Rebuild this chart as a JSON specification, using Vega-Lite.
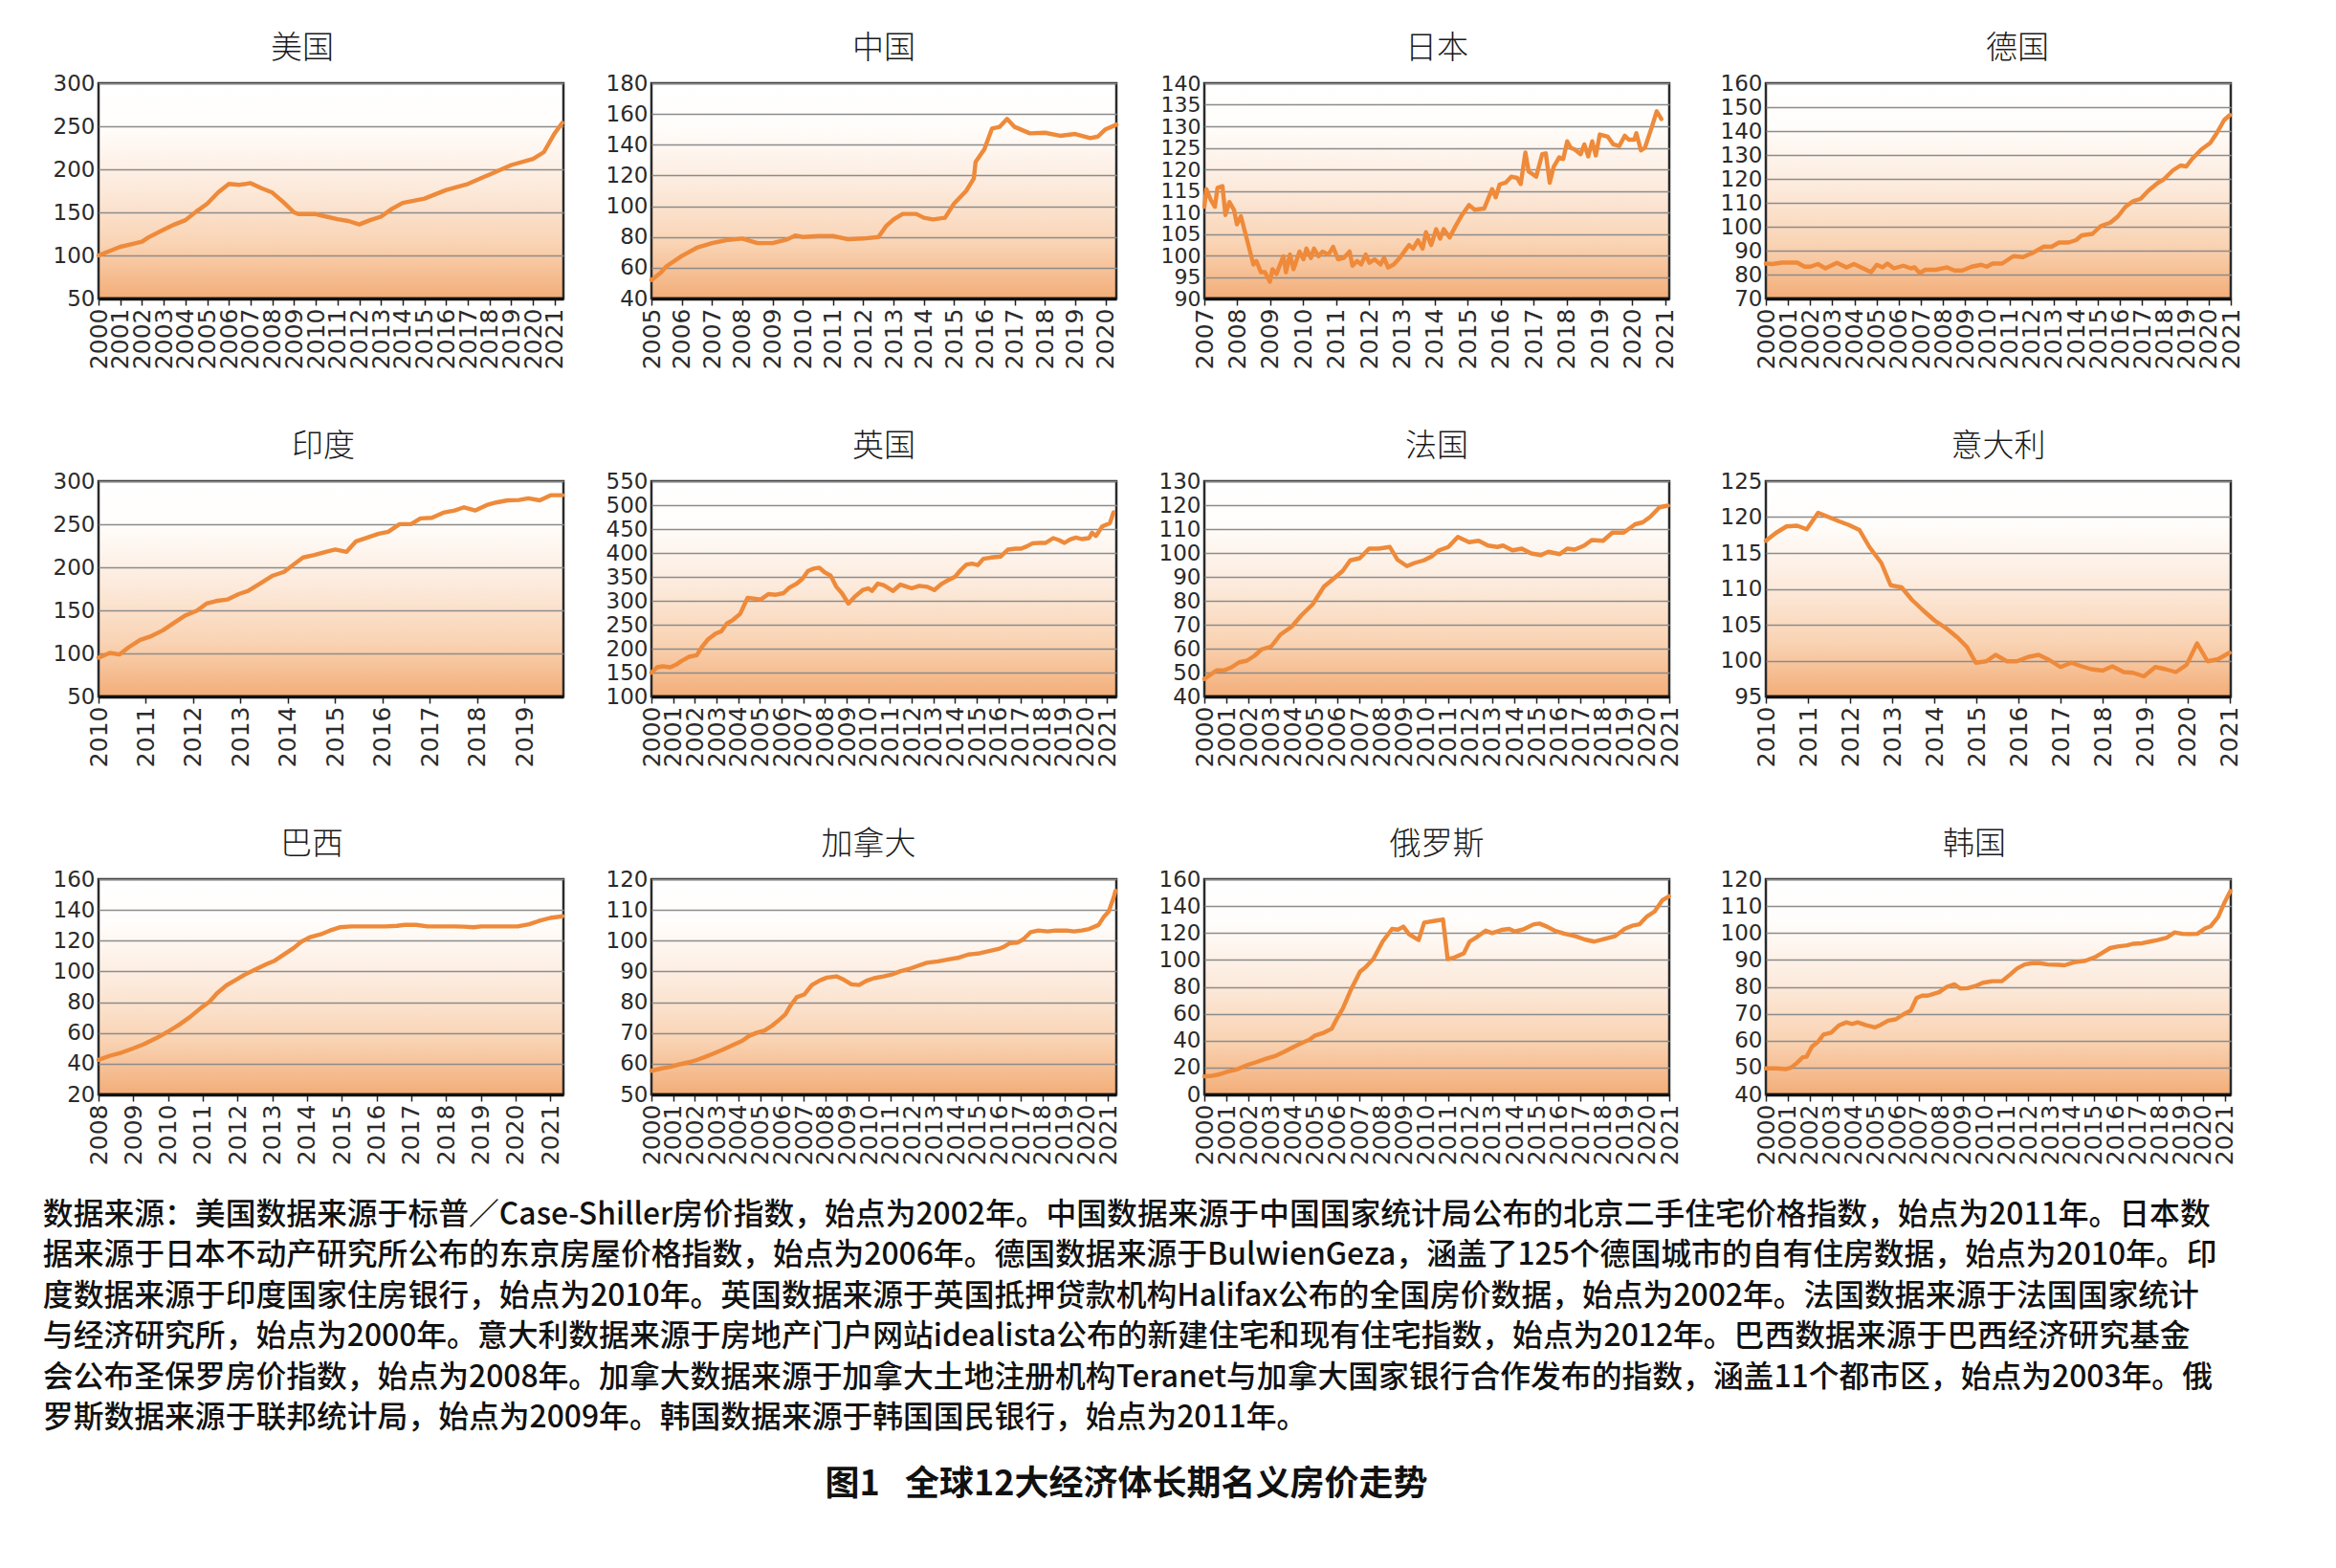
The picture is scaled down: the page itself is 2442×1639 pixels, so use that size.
{
"$schema": "https://vega.github.io/schema/vega-lite/v6.json",
"background": "white",
"padding": {"left": 44, "top": 33, "right": 10, "bottom": 10},
"datasets": {
"us": [{"t":2000,"v":100},{"t":2000.5,"v":105},{"t":2001,"v":110},{"t":2001.5,"v":113},{"t":2002,"v":116},{"t":2002.3,"v":121},{"t":2003,"v":130},{"t":2003.5,"v":136},{"t":2004,"v":141},{"t":2004.5,"v":151},{"t":2005,"v":160},{"t":2005.5,"v":173},{"t":2006,"v":183},{"t":2006.5,"v":182},{"t":2007,"v":184},{"t":2007.5,"v":178},{"t":2008,"v":173},{"t":2008.5,"v":162},{"t":2009,"v":150},{"t":2009.2,"v":148},{"t":2010,"v":148},{"t":2010.5,"v":145},{"t":2011,"v":142},{"t":2011.5,"v":140},{"t":2012,"v":136},{"t":2012.5,"v":141},{"t":2013,"v":145},{"t":2013.5,"v":154},{"t":2014,"v":161},{"t":2015,"v":166},{"t":2016,"v":176},{"t":2017,"v":183},{"t":2018,"v":194},{"t":2019,"v":205},{"t":2020,"v":212},{"t":2020.5,"v":220},{"t":2021,"v":242},{"t":2021.35,"v":254}],
"cn": [{"t":2005,"v":52},{"t":2005.3,"v":56.6},{"t":2005.5,"v":61},{"t":2006,"v":67.6},{"t":2006.5,"v":73},{"t":2007,"v":76},{"t":2007.5,"v":78},{"t":2008,"v":79},{"t":2008.5,"v":76},{"t":2009,"v":76},{"t":2009.5,"v":78.5},{"t":2009.75,"v":81},{"t":2010,"v":80},{"t":2010.5,"v":80.6},{"t":2011,"v":80.6},{"t":2011.5,"v":78.5},{"t":2012,"v":79},{"t":2012.5,"v":80},{"t":2012.75,"v":87},{"t":2013,"v":91.4},{"t":2013.3,"v":95},{"t":2013.75,"v":95},{"t":2014,"v":92.5},{"t":2014.3,"v":91.4},{"t":2014.7,"v":92.5},{"t":2015,"v":101.8},{"t":2015.4,"v":110},{"t":2015.65,"v":118},{"t":2015.71,"v":128.8},{"t":2016,"v":137},{"t":2016.25,"v":150.5},{"t":2016.5,"v":151.6},{"t":2016.75,"v":156.8},{"t":2017,"v":151.6},{"t":2017.5,"v":147.4},{"t":2018,"v":147.8},{"t":2018.5,"v":145.8},{"t":2019,"v":147},{"t":2019.5,"v":144.3},{"t":2019.75,"v":145.3},{"t":2020,"v":150},{"t":2020.36,"v":153}],
"jp": [{"t":2007.00,"v":111.3},{"t":2007.06,"v":115.4},{"t":2007.20,"v":112.8},{"t":2007.32,"v":111.3},{"t":2007.40,"v":115.7},{"t":2007.55,"v":116.1},{"t":2007.64,"v":109.4},{"t":2007.76,"v":112.4},{"t":2007.90,"v":110.6},{"t":2007.99,"v":107.2},{"t":2008.11,"v":109.1},{"t":2008.25,"v":105.0},{"t":2008.49,"v":97.9},{"t":2008.58,"v":98.7},{"t":2008.72,"v":96.1},{"t":2008.84,"v":96.1},{"t":2008.99,"v":93.9},{"t":2009.07,"v":96.8},{"t":2009.19,"v":95.7},{"t":2009.40,"v":99.8},{"t":2009.48,"v":96.1},{"t":2009.60,"v":100.2},{"t":2009.71,"v":96.8},{"t":2009.89,"v":100.9},{"t":2010.01,"v":99.1},{"t":2010.10,"v":101.6},{"t":2010.24,"v":99.4},{"t":2010.33,"v":101.6},{"t":2010.47,"v":99.8},{"t":2010.59,"v":100.9},{"t":2010.77,"v":100.2},{"t":2010.91,"v":102.0},{"t":2011.06,"v":99.1},{"t":2011.23,"v":99.4},{"t":2011.41,"v":100.9},{"t":2011.50,"v":97.6},{"t":2011.64,"v":98.7},{"t":2011.76,"v":97.9},{"t":2011.90,"v":100.2},{"t":2012.01,"v":98.3},{"t":2012.17,"v":99.1},{"t":2012.35,"v":97.9},{"t":2012.46,"v":99.4},{"t":2012.58,"v":97.2},{"t":2012.75,"v":97.9},{"t":2012.93,"v":99.4},{"t":2013.11,"v":101.3},{"t":2013.22,"v":102.4},{"t":2013.34,"v":101.6},{"t":2013.49,"v":103.5},{"t":2013.63,"v":101.6},{"t":2013.73,"v":105.4},{"t":2013.89,"v":102.4},{"t":2014.04,"v":106.1},{"t":2014.16,"v":103.9},{"t":2014.27,"v":106.1},{"t":2014.45,"v":104.2},{"t":2014.63,"v":106.8},{"t":2014.80,"v":109.1},{"t":2015.04,"v":111.7},{"t":2015.21,"v":110.6},{"t":2015.50,"v":110.9},{"t":2015.74,"v":115.4},{"t":2015.85,"v":113.5},{"t":2015.97,"v":116.5},{"t":2016.15,"v":116.9},{"t":2016.32,"v":118.3},{"t":2016.50,"v":118.0},{"t":2016.61,"v":116.6},{"t":2016.75,"v":123.9},{"t":2016.85,"v":119.5},{"t":2017.08,"v":118.3},{"t":2017.26,"v":123.5},{"t":2017.37,"v":123.7},{"t":2017.49,"v":116.9},{"t":2017.61,"v":120.6},{"t":2017.78,"v":122.8},{"t":2017.90,"v":122.4},{"t":2018.02,"v":126.5},{"t":2018.13,"v":125.0},{"t":2018.25,"v":124.6},{"t":2018.43,"v":123.5},{"t":2018.54,"v":125.8},{"t":2018.66,"v":123.0},{"t":2018.78,"v":126.5},{"t":2018.89,"v":123.2},{"t":2019.01,"v":128.1},{"t":2019.25,"v":127.6},{"t":2019.42,"v":125.8},{"t":2019.60,"v":125.4},{"t":2019.77,"v":127.8},{"t":2019.89,"v":126.9},{"t":2020.06,"v":126.9},{"t":2020.12,"v":128.4},{"t":2020.26,"v":124.4},{"t":2020.38,"v":125.0},{"t":2020.59,"v":129.8},{"t":2020.74,"v":133.5},{"t":2020.88,"v":131.7}],
"de": [{"t":2000.00,"v":84.6},{"t":2000.29,"v":84.4},{"t":2000.72,"v":85.0},{"t":2001.41,"v":85.0},{"t":2001.75,"v":83.3},{"t":2002.01,"v":83.3},{"t":2002.35,"v":84.4},{"t":2002.69,"v":82.6},{"t":2003.21,"v":84.9},{"t":2003.64,"v":83.0},{"t":2003.98,"v":84.4},{"t":2004.75,"v":81.0},{"t":2005.01,"v":84.1},{"t":2005.27,"v":83.0},{"t":2005.49,"v":84.6},{"t":2005.78,"v":82.6},{"t":2006.21,"v":83.7},{"t":2006.55,"v":82.6},{"t":2006.72,"v":83.0},{"t":2006.95,"v":80.6},{"t":2007.20,"v":82.0},{"t":2007.67,"v":82.0},{"t":2008.18,"v":83.0},{"t":2008.52,"v":81.7},{"t":2008.87,"v":81.7},{"t":2009.30,"v":83.3},{"t":2009.73,"v":84.1},{"t":2009.98,"v":83.3},{"t":2010.24,"v":84.6},{"t":2010.67,"v":84.6},{"t":2011.18,"v":87.7},{"t":2011.61,"v":87.3},{"t":2012.04,"v":89.0},{"t":2012.56,"v":91.7},{"t":2012.90,"v":91.6},{"t":2013.24,"v":93.4},{"t":2013.67,"v":93.4},{"t":2014.01,"v":94.4},{"t":2014.27,"v":96.4},{"t":2014.75,"v":97.0},{"t":2015.13,"v":100.3},{"t":2015.56,"v":101.7},{"t":2015.90,"v":104.3},{"t":2016.24,"v":108.3},{"t":2016.59,"v":110.7},{"t":2016.93,"v":111.7},{"t":2017.27,"v":115.0},{"t":2017.70,"v":118.3},{"t":2017.96,"v":119.7},{"t":2018.39,"v":123.6},{"t":2018.73,"v":125.6},{"t":2018.99,"v":125.2},{"t":2019.25,"v":128.3},{"t":2019.67,"v":132.3},{"t":2020.07,"v":135.0},{"t":2020.36,"v":139.0},{"t":2020.70,"v":144.6},{"t":2020.96,"v":146.7}],
"in": [{"t":2010.0,"v":95.0},{"t":2010.24,"v":100.6},{"t":2010.44,"v":98.7},{"t":2010.64,"v":107.2},{"t":2010.88,"v":115.7},{"t":2011.12,"v":120.2},{"t":2011.36,"v":126.8},{"t":2011.6,"v":135.7},{"t":2011.84,"v":144.2},{"t":2012.08,"v":149.7},{"t":2012.28,"v":157.8},{"t":2012.48,"v":160.8},{"t":2012.72,"v":162.6},{"t":2012.96,"v":168.9},{"t":2013.16,"v":172.6},{"t":2013.44,"v":182.2},{"t":2013.68,"v":190.3},{"t":2013.92,"v":194.7},{"t":2014.12,"v":203.2},{"t":2014.32,"v":211.4},{"t":2014.56,"v":214.3},{"t":2014.8,"v":218.0},{"t":2015.0,"v":220.6},{"t":2015.24,"v":218.0},{"t":2015.44,"v":230.2},{"t":2015.68,"v":234.6},{"t":2015.92,"v":239.1},{"t":2016.12,"v":241.3},{"t":2016.36,"v":250.1},{"t":2016.6,"v":250.1},{"t":2016.8,"v":256.8},{"t":2017.04,"v":257.5},{"t":2017.28,"v":263.4},{"t":2017.52,"v":266.0},{"t":2017.72,"v":269.7},{"t":2017.96,"v":266.0},{"t":2018.2,"v":272.3},{"t":2018.4,"v":275.3},{"t":2018.64,"v":277.8},{"t":2018.88,"v":278.2},{"t":2019.08,"v":280.1},{"t":2019.32,"v":277.8},{"t":2019.56,"v":283.8},{"t":2019.8,"v":283.8}],
"uk": [{"t":2000.0,"v":149.7},{"t":2000.26,"v":161},{"t":2000.52,"v":163},{"t":2000.87,"v":161},{"t":2001.13,"v":166.4},{"t":2001.39,"v":174.3},{"t":2001.74,"v":183},{"t":2002.09,"v":186.3},{"t":2002.35,"v":204.9},{"t":2002.61,"v":219.5},{"t":2002.96,"v":231.5},{"t":2003.22,"v":236.2},{"t":2003.48,"v":252.8},{"t":2003.74,"v":259.4},{"t":2004.09,"v":272.7},{"t":2004.43,"v":306},{"t":2004.7,"v":304.7},{"t":2005.04,"v":302.7},{"t":2005.39,"v":314},{"t":2005.74,"v":312.6},{"t":2006.09,"v":316},{"t":2006.35,"v":327.3},{"t":2006.7,"v":335.9},{"t":2006.96,"v":345.9},{"t":2007.22,"v":362.5},{"t":2007.48,"v":367.2},{"t":2007.74,"v":369.1},{"t":2008.0,"v":359.1},{"t":2008.26,"v":352.5},{"t":2008.52,"v":329.3},{"t":2008.78,"v":316},{"t":2009.08,"v":294},{"t":2009.39,"v":309.3},{"t":2009.74,"v":322.6},{"t":2010.0,"v":325.9},{"t":2010.17,"v":320.6},{"t":2010.43,"v":335.9},{"t":2010.7,"v":332.6},{"t":2011.13,"v":320.6},{"t":2011.48,"v":334.0},{"t":2011.65,"v":331.3},{"t":2012.0,"v":326},{"t":2012.35,"v":331.3},{"t":2012.7,"v":329.3},{"t":2013.04,"v":322.6},{"t":2013.39,"v":335.9},{"t":2013.65,"v":342.5},{"t":2014.0,"v":350.5},{"t":2014.26,"v":364.5},{"t":2014.52,"v":375.8},{"t":2014.78,"v":377.8},{"t":2015.04,"v":374.5},{"t":2015.3,"v":387.8},{"t":2015.65,"v":390.4},{"t":2016.09,"v":392.4},{"t":2016.43,"v":407},{"t":2016.78,"v":409},{"t":2017.04,"v":409},{"t":2017.3,"v":413.7},{"t":2017.57,"v":420.3},{"t":2017.91,"v":421},{"t":2018.17,"v":421},{"t":2018.52,"v":431},{"t":2018.78,"v":427},{"t":2019.04,"v":421},{"t":2019.3,"v":428.3},{"t":2019.57,"v":432.3},{"t":2019.83,"v":429},{"t":2020.17,"v":431},{"t":2020.31,"v":442.3},{"t":2020.49,"v":435.6},{"t":2020.78,"v":455.6},{"t":2021.13,"v":462.2},{"t":2021.3,"v":485}],
"fr": [{"t":2000.0,"v":47.3},{"t":2000.2,"v":48.6},{"t":2000.55,"v":50.9},{"t":2000.89,"v":50.9},{"t":2001.23,"v":52.2},{"t":2001.57,"v":54.3},{"t":2001.91,"v":54.9},{"t":2002.25,"v":56.9},{"t":2002.59,"v":59.7},{"t":2003.02,"v":60.9},{"t":2003.44,"v":65.9},{"t":2003.95,"v":69.2},{"t":2004.38,"v":73.9},{"t":2004.89,"v":78.5},{"t":2005.4,"v":85.9},{"t":2005.91,"v":89.8},{"t":2006.25,"v":92.5},{"t":2006.59,"v":96.9},{"t":2007.02,"v":97.8},{"t":2007.44,"v":101.8},{"t":2007.87,"v":101.8},{"t":2008.38,"v":102.5},{"t":2008.72,"v":97.2},{"t":2009.15,"v":94.5},{"t":2009.49,"v":95.8},{"t":2009.91,"v":96.9},{"t":2010.26,"v":98.5},{"t":2010.6,"v":101.1},{"t":2011.02,"v":102.5},{"t":2011.45,"v":106.7},{"t":2011.96,"v":104.5},{"t":2012.39,"v":105.1},{"t":2012.81,"v":103.1},{"t":2013.24,"v":102.5},{"t":2013.49,"v":103.1},{"t":2013.92,"v":101.1},{"t":2014.34,"v":101.8},{"t":2014.77,"v":99.8},{"t":2015.2,"v":99.1},{"t":2015.54,"v":100.5},{"t":2016.05,"v":99.5},{"t":2016.39,"v":101.8},{"t":2016.73,"v":101.4},{"t":2017.16,"v":103.1},{"t":2017.5,"v":105.4},{"t":2018.01,"v":105.1},{"t":2018.43,"v":108.5},{"t":2018.94,"v":108.5},{"t":2019.46,"v":112},{"t":2019.8,"v":112.8},{"t":2020.14,"v":115.1},{"t":2020.56,"v":119.1},{"t":2020.94,"v":119.8}],
"it": [{"t":2010.0,"v":116.7},{"t":2010.24,"v":117.8},{"t":2010.49,"v":118.7},{"t":2010.74,"v":118.8},{"t":2010.97,"v":118.3},{"t":2011.24,"v":120.6},{"t":2011.49,"v":120.0},{"t":2011.74,"v":119.4},{"t":2011.97,"v":118.9},{"t":2012.22,"v":118.2},{"t":2012.46,"v":115.8},{"t":2012.74,"v":113.6},{"t":2012.96,"v":110.5},{"t":2013.22,"v":110.2},{"t":2013.46,"v":108.5},{"t":2013.73,"v":107.0},{"t":2014.0,"v":105.6},{"t":2014.28,"v":104.5},{"t":2014.55,"v":103.2},{"t":2014.77,"v":101.9},{"t":2014.98,"v":99.7},{"t":2015.23,"v":99.9},{"t":2015.45,"v":100.8},{"t":2015.72,"v":99.9},{"t":2015.95,"v":99.9},{"t":2016.22,"v":100.5},{"t":2016.47,"v":100.8},{"t":2016.72,"v":100.1},{"t":2016.99,"v":99.1},{"t":2017.25,"v":99.7},{"t":2017.49,"v":99.2},{"t":2017.72,"v":98.8},{"t":2017.99,"v":98.6},{"t":2018.22,"v":99.2},{"t":2018.49,"v":98.4},{"t":2018.71,"v":98.3},{"t":2018.97,"v":97.8},{"t":2019.24,"v":99.1},{"t":2019.48,"v":98.8},{"t":2019.73,"v":98.4},{"t":2019.98,"v":99.4},{"t":2020.23,"v":102.4},{"t":2020.48,"v":99.9},{"t":2020.73,"v":100.2},{"t":2021.0,"v":101.1}],
"br": [{"t":2008.0,"v":42.5},{"t":2008.33,"v":45.2},{"t":2008.66,"v":47.2},{"t":2008.99,"v":49.9},{"t":2009.32,"v":52.8},{"t":2009.65,"v":56.5},{"t":2009.98,"v":60.6},{"t":2010.31,"v":65.2},{"t":2010.64,"v":70.5},{"t":2010.97,"v":76.7},{"t":2011.19,"v":80.2},{"t":2011.41,"v":85.8},{"t":2011.69,"v":91.1},{"t":2011.96,"v":94.6},{"t":2012.19,"v":97.7},{"t":2012.52,"v":101.4},{"t":2012.85,"v":104.9},{"t":2013.07,"v":107},{"t":2013.34,"v":111.1},{"t":2013.62,"v":115.3},{"t":2013.84,"v":119.4},{"t":2014.11,"v":122.5},{"t":2014.39,"v":124.1},{"t":2014.66,"v":126.6},{"t":2014.94,"v":128.7},{"t":2015.27,"v":129.3},{"t":2015.6,"v":129.3},{"t":2015.93,"v":129.3},{"t":2016.26,"v":129.3},{"t":2016.59,"v":129.7},{"t":2016.81,"v":130.3},{"t":2017.14,"v":130.3},{"t":2017.47,"v":129.3},{"t":2017.8,"v":129.3},{"t":2018.24,"v":129.3},{"t":2018.52,"v":129.1},{"t":2018.79,"v":128.7},{"t":2019.01,"v":129.3},{"t":2019.45,"v":129.3},{"t":2019.78,"v":129.3},{"t":2020.06,"v":129.3},{"t":2020.39,"v":130.7},{"t":2020.67,"v":132.8},{"t":2021.0,"v":134.8},{"t":2021.35,"v":135.9}],
"ca": [{"t":2000.0,"v":57.7},{"t":2000.43,"v":58.4},{"t":2000.87,"v":59.0},{"t":2001.3,"v":59.8},{"t":2001.74,"v":60.5},{"t":2002.08,"v":61.2},{"t":2002.43,"v":62.1},{"t":2002.86,"v":63.3},{"t":2003.3,"v":64.6},{"t":2003.73,"v":66.0},{"t":2004.17,"v":67.4},{"t":2004.51,"v":69.1},{"t":2004.86,"v":70.1},{"t":2005.21,"v":70.8},{"t":2005.56,"v":72.4},{"t":2005.9,"v":74.4},{"t":2006.16,"v":76.0},{"t":2006.42,"v":79.1},{"t":2006.68,"v":81.6},{"t":2007.03,"v":82.5},{"t":2007.38,"v":85.6},{"t":2007.73,"v":87.0},{"t":2008.07,"v":88.0},{"t":2008.51,"v":88.4},{"t":2008.85,"v":87.3},{"t":2009.2,"v":85.8},{"t":2009.55,"v":85.6},{"t":2009.9,"v":87.0},{"t":2010.24,"v":87.8},{"t":2010.68,"v":88.4},{"t":2011.11,"v":89.1},{"t":2011.46,"v":90.1},{"t":2011.89,"v":90.9},{"t":2012.33,"v":92.0},{"t":2012.67,"v":92.8},{"t":2013.19,"v":93.3},{"t":2013.72,"v":94.0},{"t":2014.15,"v":94.5},{"t":2014.58,"v":95.5},{"t":2015.1,"v":95.9},{"t":2015.54,"v":96.6},{"t":2015.97,"v":97.3},{"t":2016.23,"v":98.1},{"t":2016.49,"v":99.2},{"t":2016.84,"v":99.4},{"t":2017.1,"v":100.4},{"t":2017.45,"v":102.8},{"t":2017.8,"v":103.3},{"t":2018.23,"v":103.0},{"t":2018.58,"v":103.3},{"t":2019.1,"v":103.3},{"t":2019.44,"v":103.0},{"t":2019.79,"v":103.3},{"t":2020.14,"v":103.8},{"t":2020.57,"v":105.1},{"t":2020.83,"v":107.9},{"t":2021.04,"v":109.5},{"t":2021.27,"v":114.1},{"t":2021.35,"v":116.2}],
"ru": [{"t":2000.0,"v":13.4},{"t":2000.38,"v":13.9},{"t":2000.72,"v":15.1},{"t":2001.06,"v":17.0},{"t":2001.48,"v":18.6},{"t":2001.91,"v":21.7},{"t":2002.34,"v":24.0},{"t":2002.76,"v":26.4},{"t":2003.19,"v":28.5},{"t":2003.62,"v":31.8},{"t":2004.04,"v":35.4},{"t":2004.39,"v":38.2},{"t":2004.73,"v":40.5},{"t":2004.98,"v":43.6},{"t":2005.41,"v":46.0},{"t":2005.75,"v":48.8},{"t":2006.01,"v":57.0},{"t":2006.26,"v":64.1},{"t":2006.6,"v":77.1},{"t":2007.03,"v":91.2},{"t":2007.29,"v":94.7},{"t":2007.63,"v":100.6},{"t":2008.05,"v":113.6},{"t":2008.48,"v":123.0},{"t":2008.74,"v":122.5},{"t":2008.99,"v":124.7},{"t":2009.25,"v":119.0},{"t":2009.68,"v":114.8},{"t":2009.93,"v":127.7},{"t":2010.36,"v":128.9},{"t":2010.78,"v":130.1},{"t":2010.99,"v":100.6},{"t":2011.3,"v":101.8},{"t":2011.72,"v":104.9},{"t":2011.98,"v":113.6},{"t":2012.32,"v":117.1},{"t":2012.71,"v":121.8},{"t":2013.0,"v":119.9},{"t":2013.43,"v":122.3},{"t":2013.77,"v":123.0},{"t":2014.03,"v":121.1},{"t":2014.45,"v":123.0},{"t":2014.88,"v":126.5},{"t":2015.14,"v":127.0},{"t":2015.48,"v":124.7},{"t":2015.82,"v":121.8},{"t":2016.25,"v":119.5},{"t":2016.76,"v":117.6},{"t":2017.18,"v":115.2},{"t":2017.61,"v":113.6},{"t":2018.04,"v":115.5},{"t":2018.55,"v":117.6},{"t":2018.98,"v":123.0},{"t":2019.32,"v":125.4},{"t":2019.66,"v":126.5},{"t":2020.0,"v":132.4},{"t":2020.34,"v":136.0},{"t":2020.68,"v":144.2},{"t":2020.99,"v":147.3}],
"kr": [{"t":2000.0,"v":49.7},{"t":2000.47,"v":49.7},{"t":2000.9,"v":49.4},{"t":2001.16,"v":50.0},{"t":2001.42,"v":51.7},{"t":2001.68,"v":53.8},{"t":2001.86,"v":54.0},{"t":2002.12,"v":57.9},{"t":2002.38,"v":59.5},{"t":2002.64,"v":62.3},{"t":2002.99,"v":63.0},{"t":2003.33,"v":65.6},{"t":2003.68,"v":66.8},{"t":2003.94,"v":66.2},{"t":2004.2,"v":66.8},{"t":2004.55,"v":65.8},{"t":2004.98,"v":64.9},{"t":2005.24,"v":65.8},{"t":2005.59,"v":67.4},{"t":2005.94,"v":67.9},{"t":2006.28,"v":69.7},{"t":2006.63,"v":71.2},{"t":2006.89,"v":75.8},{"t":2007.15,"v":76.7},{"t":2007.41,"v":76.7},{"t":2007.67,"v":77.4},{"t":2007.93,"v":78.0},{"t":2008.28,"v":80.0},{"t":2008.63,"v":80.9},{"t":2008.89,"v":79.4},{"t":2009.24,"v":79.5},{"t":2009.58,"v":80.3},{"t":2009.93,"v":81.5},{"t":2010.36,"v":82.1},{"t":2010.8,"v":82.1},{"t":2011.15,"v":84.4},{"t":2011.49,"v":86.8},{"t":2011.84,"v":88.3},{"t":2012.19,"v":88.8},{"t":2012.53,"v":88.8},{"t":2012.88,"v":88.3},{"t":2013.4,"v":88.2},{"t":2013.66,"v":88.0},{"t":2014.1,"v":89.1},{"t":2014.62,"v":89.7},{"t":2015.05,"v":91.0},{"t":2015.4,"v":92.7},{"t":2015.75,"v":94.4},{"t":2016.09,"v":95.0},{"t":2016.53,"v":95.4},{"t":2016.79,"v":96.0},{"t":2017.22,"v":96.2},{"t":2017.57,"v":96.8},{"t":2017.92,"v":97.4},{"t":2018.35,"v":98.3},{"t":2018.7,"v":100.2},{"t":2019.05,"v":99.7},{"t":2019.39,"v":99.6},{"t":2019.74,"v":99.7},{"t":2020.09,"v":101.7},{"t":2020.35,"v":102.5},{"t":2020.69,"v":105.9},{"t":2020.96,"v":110.9},{"t":2021.25,"v":115.6}]
},
"vconcat": [
{
"columns": 4,
"spacing": {"row": 62, "column": 36},
"title": {
"text": [
"数据来源：美国数据来源于标普／Case-Shiller房价指数，始点为2002年。中国数据来源于中国国家统计局公布的北京二手住宅价格指数，始点为2011年。日本数",
"据来源于日本不动产研究所公布的东京房屋价格指数，始点为2006年。德国数据来源于BulwienGeza，涵盖了125个德国城市的自有住房数据，始点为2010年。印",
"度数据来源于印度国家住房银行，始点为2010年。英国数据来源于英国抵押贷款机构Halifax公布的全国房价数据，始点为2002年。法国数据来源于法国国家统计",
"与经济研究所，始点为2000年。意大利数据来源于房地产门户网站idealista公布的新建住宅和现有住宅指数，始点为2012年。巴西数据来源于巴西经济研究基金",
"会公布圣保罗房价指数，始点为2008年。加拿大数据来源于加拿大土地注册机构Teranet与加拿大国家银行合作发布的指数，涵盖11个都市区，始点为2003年。俄",
"罗斯数据来源于联邦统计局，始点为2009年。韩国数据来源于韩国国民银行，始点为2011年。"
],
"orient": "bottom", "anchor": "start", "frame": "bounds", "dx": -9,
"font": "Noto Sans CJK SC", "fontSize": 31.8, "fontWeight": 500, "lineHeight": 42.5, "offset": 36, "color": "#111111"
},
"concat": [
{"title": {"text": "美国", "dx": -30}, "data": {"name": "us"}, "mark": "line",
 "encoding": {"x": {"field": "t", "type": "quantitative", "title": null, "scale": {"domain": [2000, 2021.4], "nice": false, "zero": false}, "axis": {"format": "d", "values": [2000,2001,2002,2003,2004,2005,2006,2007,2008,2009,2010,2011,2012,2013,2014,2015,2016,2017,2018,2019,2020,2021]}},
  "y": {"field": "v", "type": "quantitative", "title": null, "scale": {"domain": [50, 300], "nice": false, "zero": false}, "axis": {"values": [50,100,150,200,250,300]}}}},
{"title": "中国", "data": {"name": "cn"}, "mark": "line",
 "encoding": {"x": {"field": "t", "type": "quantitative", "title": null, "scale": {"domain": [2005, 2020.36], "nice": false, "zero": false}, "axis": {"format": "d", "values": [2005,2006,2007,2008,2009,2010,2011,2012,2013,2014,2015,2016,2017,2018,2019,2020]}},
  "y": {"field": "v", "type": "quantitative", "title": null, "scale": {"domain": [40, 180], "nice": false, "zero": false}, "axis": {"values": [40,60,80,100,120,140,160,180]}}}},
{"title": "日本", "data": {"name": "jp"}, "mark": "line",
 "encoding": {"x": {"field": "t", "type": "quantitative", "title": null, "scale": {"domain": [2007, 2021.12], "nice": false, "zero": false}, "axis": {"format": "d", "values": [2007,2008,2009,2010,2011,2012,2013,2014,2015,2016,2017,2018,2019,2020,2021]}},
  "y": {"field": "v", "type": "quantitative", "title": null, "scale": {"domain": [90, 140], "nice": false, "zero": false}, "axis": {"values": [90,95,100,105,110,115,120,125,130,135,140], "labelFontSize": 22}}}},
{"title": {"text": "德国", "dx": 20}, "data": {"name": "de"}, "mark": "line",
 "encoding": {"x": {"field": "t", "type": "quantitative", "title": null, "scale": {"domain": [2000, 2021], "nice": false, "zero": false}, "axis": {"format": "d", "values": [2000,2001,2002,2003,2004,2005,2006,2007,2008,2009,2010,2011,2012,2013,2014,2015,2016,2017,2018,2019,2020,2021]}},
  "y": {"field": "v", "type": "quantitative", "title": null, "scale": {"domain": [70, 160], "nice": false, "zero": false}, "axis": {"values": [70,80,90,100,110,120,130,140,150,160]}}}},
{"title": {"text": "印度", "dx": -8}, "data": {"name": "in"}, "mark": "line",
 "encoding": {"x": {"field": "t", "type": "quantitative", "title": null, "scale": {"domain": [2010, 2019.82], "nice": false, "zero": false}, "axis": {"format": "d", "values": [2010,2011,2012,2013,2014,2015,2016,2017,2018,2019]}},
  "y": {"field": "v", "type": "quantitative", "title": null, "scale": {"domain": [50, 300], "nice": false, "zero": false}, "axis": {"values": [50,100,150,200,250,300]}}}},
{"title": "英国", "data": {"name": "uk"}, "mark": "line",
 "encoding": {"x": {"field": "t", "type": "quantitative", "title": null, "scale": {"domain": [2000, 2021.43], "nice": false, "zero": false}, "axis": {"format": "d", "values": [2000,2001,2002,2003,2004,2005,2006,2007,2008,2009,2010,2011,2012,2013,2014,2015,2016,2017,2018,2019,2020,2021]}},
  "y": {"field": "v", "type": "quantitative", "title": null, "scale": {"domain": [100, 550], "nice": false, "zero": false}, "axis": {"values": [100,150,200,250,300,350,400,450,500,550]}}}},
{"title": "法国", "data": {"name": "fr"}, "mark": "line",
 "encoding": {"x": {"field": "t", "type": "quantitative", "title": null, "scale": {"domain": [2000, 2021], "nice": false, "zero": false}, "axis": {"format": "d", "values": [2000,2001,2002,2003,2004,2005,2006,2007,2008,2009,2010,2011,2012,2013,2014,2015,2016,2017,2018,2019,2020,2021]}},
  "y": {"field": "v", "type": "quantitative", "title": null, "scale": {"domain": [40, 130], "nice": false, "zero": false}, "axis": {"values": [40,50,60,70,80,90,100,110,120,130]}}}},
{"title": "意大利", "data": {"name": "it"}, "mark": "line",
 "encoding": {"x": {"field": "t", "type": "quantitative", "title": null, "scale": {"domain": [2010, 2021.03], "nice": false, "zero": false}, "axis": {"format": "d", "values": [2010,2011,2012,2013,2014,2015,2016,2017,2018,2019,2020,2021]}},
  "y": {"field": "v", "type": "quantitative", "title": null, "scale": {"domain": [95, 125], "nice": false, "zero": false}, "axis": {"values": [95,100,105,110,115,120,125]}}}},
{"title": {"text": "巴西", "dx": -20}, "data": {"name": "br"}, "mark": "line",
 "encoding": {"x": {"field": "t", "type": "quantitative", "title": null, "scale": {"domain": [2008, 2021.38], "nice": false, "zero": false}, "axis": {"format": "d", "values": [2008,2009,2010,2011,2012,2013,2014,2015,2016,2017,2018,2019,2020,2021]}},
  "y": {"field": "v", "type": "quantitative", "title": null, "scale": {"domain": [20, 160], "nice": false, "zero": false}, "axis": {"values": [20,40,60,80,100,120,140,160]}}}},
{"title": {"text": "加拿大", "dx": -16}, "data": {"name": "ca"}, "mark": "line",
 "encoding": {"x": {"field": "t", "type": "quantitative", "title": null, "scale": {"domain": [2000, 2021.39], "nice": false, "zero": false}, "axis": {"format": "d", "values": [2000,2001,2002,2003,2004,2005,2006,2007,2008,2009,2010,2011,2012,2013,2014,2015,2016,2017,2018,2019,2020,2021]}},
  "y": {"field": "v", "type": "quantitative", "title": null, "scale": {"domain": [50, 120], "nice": false, "zero": false}, "axis": {"values": [50,60,70,80,90,100,110,120]}}}},
{"title": "俄罗斯", "data": {"name": "ru"}, "mark": "line",
 "encoding": {"x": {"field": "t", "type": "quantitative", "title": null, "scale": {"domain": [2000, 2021], "nice": false, "zero": false}, "axis": {"format": "d", "values": [2000,2001,2002,2003,2004,2005,2006,2007,2008,2009,2010,2011,2012,2013,2014,2015,2016,2017,2018,2019,2020,2021]}},
  "y": {"field": "v", "type": "quantitative", "title": null, "scale": {"domain": [0, 160], "nice": false, "zero": false}, "axis": {"values": [0,20,40,60,80,100,120,140,160]}}}},
{"title": {"text": "韩国", "dx": -25}, "data": {"name": "kr"}, "mark": "line",
 "encoding": {"x": {"field": "t", "type": "quantitative", "title": null, "scale": {"domain": [2000, 2021.27], "nice": false, "zero": false}, "axis": {"format": "d", "values": [2000,2001,2002,2003,2004,2005,2006,2007,2008,2009,2010,2011,2012,2013,2014,2015,2016,2017,2018,2019,2020,2021]}},
  "y": {"field": "v", "type": "quantitative", "title": null, "scale": {"domain": [40, 120], "nice": false, "zero": false}, "axis": {"values": [40,50,60,70,80,90,100,110,120]}}}}
]
}
],
"title": {"text": "图1\u2002 全球12大经济体长期名义房价走势", "orient": "bottom", "anchor": "middle", "frame": "bounds", "dx": -18, "font": "Noto Sans CJK SC", "fontSize": 36, "fontWeight": "bold", "offset": 36, "color": "#111111"},
"config": {
"view": {"continuousWidth": 486, "continuousHeight": 225, "stroke": "#2a2a2a", "strokeWidth": 2.5,
 "fill": {"gradient": "linear", "x1": 0, "y1": 0, "x2": 0, "y2": 1, "stops": [{"offset": 0, "color": "#ffffff"}, {"offset": 0.2, "color": "#fffdfb"}, {"offset": 0.5, "color": "#fce9da"}, {"offset": 0.75, "color": "#f9d3b3"}, {"offset": 1, "color": "#f3ad78"}]}},
"title": {"font": "Noto Sans CJK SC", "fontSize": 33, "fontWeight": 300, "color": "#1a1a1a", "offset": 8, "anchor": "middle"},
"line": {"color": "#ee8a3a", "strokeWidth": 4.4, "strokeJoin": "round", "strokeCap": "round"},
"axis": {"labelFont": "DejaVu Sans", "labelColor": "#2b2b2b", "labelOverlap": false, "labelFlush": false, "labelBound": false},
"axisX": {"domainColor": "#111111", "domainWidth": 3.5, "tickColor": "#222222", "tickSize": 7, "tickWidth": 1.5, "labelAngle": -90, "labelFontSize": 25, "labelPadding": 3, "grid": false},
"axisY": {"domain": false, "ticks": false, "grid": true, "gridColor": "#8c8c8c", "gridWidth": 1.3, "labelFontSize": 23, "labelPadding": 4}
}
}
